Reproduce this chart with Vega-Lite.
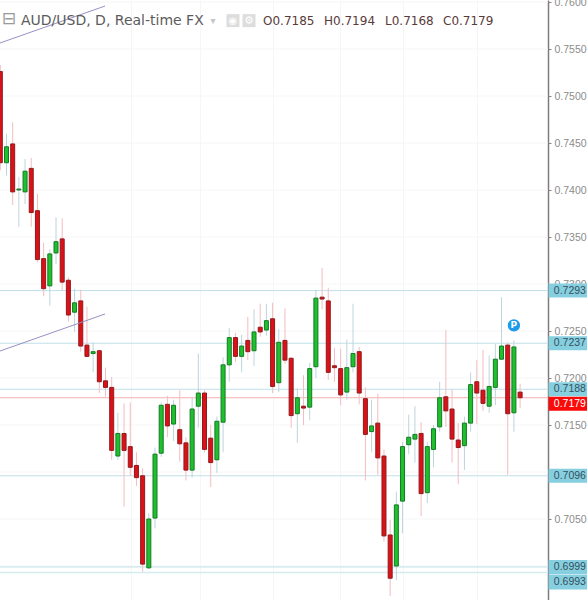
{
  "$schema": "https://vega.github.io/schema/vega-lite/v6.json",
  "width": 587,
  "height": 600,
  "padding": 0,
  "autosize": {"type": "none"},
  "background": "white",
  "view": {"stroke": null},
  "config": {"font": "Liberation Sans"},
  "data": {"values": [{}]},
  "datasets": {
    "candles": [
      {"day":0,"open":0.7526,"high":0.7533,"low":0.7421,"close":0.7429},
      {"day":1,"open":0.7429,"high":0.7460,"low":0.7415,"close":0.7446},
      {"day":2,"open":0.7449,"high":0.7472,"low":0.7384,"close":0.7398},
      {"day":3,"open":0.7400,"high":0.7414,"low":0.7361,"close":0.7401},
      {"day":4,"open":0.7398,"high":0.7433,"low":0.7385,"close":0.7420},
      {"day":5,"open":0.7423,"high":0.7434,"low":0.7361,"close":0.7376},
      {"day":6,"open":0.7378,"high":0.7396,"low":0.7323,"close":0.7326},
      {"day":7,"open":0.7327,"high":0.7344,"low":0.7287,"close":0.7295},
      {"day":8,"open":0.7298,"high":0.7337,"low":0.7277,"close":0.7332},
      {"day":9,"open":0.7333,"high":0.7371,"low":0.7321,"close":0.7345},
      {"day":10,"open":0.7348,"high":0.7370,"low":0.7293,"close":0.7302},
      {"day":11,"open":0.7304,"high":0.7307,"low":0.7260,"close":0.7267},
      {"day":12,"open":0.7270,"high":0.7295,"low":0.7249,"close":0.7280},
      {"day":13,"open":0.7282,"high":0.7294,"low":0.7228,"close":0.7234},
      {"day":14,"open":0.7235,"high":0.7276,"low":0.7222,"close":0.7223},
      {"day":15,"open":0.7226,"high":0.7238,"low":0.7206,"close":0.7228},
      {"day":16,"open":0.7229,"high":0.7230,"low":0.7184,"close":0.7196},
      {"day":17,"open":0.7197,"high":0.7211,"low":0.7180,"close":0.7190},
      {"day":18,"open":0.7190,"high":0.7201,"low":0.7113,"close":0.7123},
      {"day":19,"open":0.7117,"high":0.7163,"low":0.7113,"close":0.7141},
      {"day":20,"open":0.7141,"high":0.7173,"low":0.7063,"close":0.7123},
      {"day":21,"open":0.7127,"high":0.7174,"low":0.7096,"close":0.7105},
      {"day":22,"open":0.7107,"high":0.7121,"low":0.7085,"close":0.7094},
      {"day":23,"open":0.7096,"high":0.7104,"low":0.6994,"close":0.7002},
      {"day":24,"open":0.6998,"high":0.7056,"low":0.6997,"close":0.7050},
      {"day":25,"open":0.7051,"high":0.7126,"low":0.7040,"close":0.7119},
      {"day":26,"open":0.7120,"high":0.7174,"low":0.7116,"close":0.7171},
      {"day":27,"open":0.7172,"high":0.7181,"low":0.7137,"close":0.7149},
      {"day":28,"open":0.7151,"high":0.7177,"low":0.7133,"close":0.7171},
      {"day":29,"open":0.7145,"high":0.7187,"low":0.7111,"close":0.7130},
      {"day":30,"open":0.7131,"high":0.7137,"low":0.7091,"close":0.7102},
      {"day":31,"open":0.7102,"high":0.7179,"low":0.7094,"close":0.7167},
      {"day":32,"open":0.7170,"high":0.7226,"low":0.7147,"close":0.7184},
      {"day":33,"open":0.7184,"high":0.7187,"low":0.7121,"close":0.7124},
      {"day":34,"open":0.7136,"high":0.7150,"low":0.7084,"close":0.7110},
      {"day":35,"open":0.7113,"high":0.7159,"low":0.7099,"close":0.7154},
      {"day":36,"open":0.7153,"high":0.7222,"low":0.7121,"close":0.7214},
      {"day":37,"open":0.7214,"high":0.7253,"low":0.7196,"close":0.7243},
      {"day":38,"open":0.7243,"high":0.7248,"low":0.7217,"close":0.7223},
      {"day":39,"open":0.7223,"high":0.7246,"low":0.7206,"close":0.7234},
      {"day":40,"open":0.7240,"high":0.7265,"low":0.7219,"close":0.7228},
      {"day":41,"open":0.7229,"high":0.7273,"low":0.7213,"close":0.7249},
      {"day":42,"open":0.7254,"high":0.7279,"low":0.7244,"close":0.7249},
      {"day":43,"open":0.7251,"high":0.7279,"low":0.7245,"close":0.7261},
      {"day":44,"open":0.7263,"high":0.7280,"low":0.7184,"close":0.7191},
      {"day":45,"open":0.7195,"high":0.7252,"low":0.7185,"close":0.7238},
      {"day":46,"open":0.7240,"high":0.7274,"low":0.7215,"close":0.7219},
      {"day":47,"open":0.7221,"high":0.7222,"low":0.7147,"close":0.7160},
      {"day":48,"open":0.7162,"high":0.7189,"low":0.7131,"close":0.7179},
      {"day":49,"open":0.7170,"high":0.7203,"low":0.7150,"close":0.7168},
      {"day":50,"open":0.7169,"high":0.7216,"low":0.7155,"close":0.7210},
      {"day":51,"open":0.7212,"high":0.7294,"low":0.7200,"close":0.7285},
      {"day":52,"open":0.7286,"high":0.7317,"low":0.7273,"close":0.7284},
      {"day":53,"open":0.7282,"high":0.7296,"low":0.7198,"close":0.7206},
      {"day":54,"open":0.7213,"high":0.7232,"low":0.7196,"close":0.7211},
      {"day":55,"open":0.7210,"high":0.7231,"low":0.7171,"close":0.7182},
      {"day":56,"open":0.7185,"high":0.7241,"low":0.7177,"close":0.7211},
      {"day":57,"open":0.7212,"high":0.7279,"low":0.7206,"close":0.7226},
      {"day":58,"open":0.7228,"high":0.7233,"low":0.7172,"close":0.7184},
      {"day":59,"open":0.7178,"high":0.7190,"low":0.7091,"close":0.7140},
      {"day":60,"open":0.7143,"high":0.7177,"low":0.7121,"close":0.7149},
      {"day":61,"open":0.7152,"high":0.7183,"low":0.7097,"close":0.7115},
      {"day":62,"open":0.7117,"high":0.7124,"low":0.7026,"close":0.7032},
      {"day":63,"open":0.7033,"high":0.7049,"low":0.6968,"close":0.6987},
      {"day":64,"open":0.7000,"high":0.7079,"low":0.6985,"close":0.7065},
      {"day":65,"open":0.7069,"high":0.7132,"low":0.7035,"close":0.7127},
      {"day":66,"open":0.7129,"high":0.7161,"low":0.7119,"close":0.7137},
      {"day":67,"open":0.7135,"high":0.7170,"low":0.7110,"close":0.7140},
      {"day":68,"open":0.7141,"high":0.7153,"low":0.7053,"close":0.7077},
      {"day":69,"open":0.7078,"high":0.7132,"low":0.7067,"close":0.7127},
      {"day":70,"open":0.7124,"high":0.7150,"low":0.7105,"close":0.7146},
      {"day":71,"open":0.7148,"high":0.7196,"low":0.7143,"close":0.7179},
      {"day":72,"open":0.7180,"high":0.7251,"low":0.7148,"close":0.7165},
      {"day":73,"open":0.7167,"high":0.7188,"low":0.7110,"close":0.7135},
      {"day":74,"open":0.7134,"high":0.7152,"low":0.7087,"close":0.7126},
      {"day":75,"open":0.7128,"high":0.7159,"low":0.7102,"close":0.7152},
      {"day":76,"open":0.7152,"high":0.7206,"low":0.7143,"close":0.7193},
      {"day":77,"open":0.7196,"high":0.7219,"low":0.7151,"close":0.7184},
      {"day":78,"open":0.7187,"high":0.7230,"low":0.7165,"close":0.7173},
      {"day":79,"open":0.7170,"high":0.7224,"low":0.7163,"close":0.7191},
      {"day":80,"open":0.7190,"high":0.7236,"low":0.7171,"close":0.7220},
      {"day":81,"open":0.7220,"high":0.7286,"low":0.7219,"close":0.7234},
      {"day":82,"open":0.7235,"high":0.7238,"low":0.7097,"close":0.7162},
      {"day":83,"open":0.7163,"high":0.7240,"low":0.7143,"close":0.7233},
      {"day":84,"open":0.7185,"high":0.7194,"low":0.7168,"close":0.7179}
    ],
    "ticks": [
      {"price":0.70},{"price":0.705},{"price":0.71},{"price":0.715},{"price":0.72},{"price":0.725},{"price":0.73},
      {"price":0.735},{"price":0.74},{"price":0.745},{"price":0.75},{"price":0.755},{"price":0.76}
    ],
    "trend": [
      {"line":"a","day":-0.05,"price":0.75564},
      {"line":"a","day":16.92,"price":0.75957},
      {"line":"b","day":-0.05,"price":0.72287},
      {"line":"b","day":16.92,"price":0.72681}
    ],
    "levels": [
      {"price":0.7293,"label":"0.7293"},
      {"price":0.7237,"label":"0.7237"},
      {"price":0.7188,"label":"0.7188"},
      {"price":0.7096,"label":"0.7096"},
      {"price":0.6999,"label":"0.6999"}
    ],
    "lowest": [{"price":0.6993,"label":"0.6993"}],
    "last": [{"price":0.7179,"label":"0.7179"}],
    "ohlc": [
      {"day":42.45,"label":"O0.7185"},
      {"day":52.31,"label":"H0.7194"},
      {"day":62.17,"label":"L0.7168"},
      {"day":71.54,"label":"C0.7179"}
    ],
    "pin": [{"day":83,"price":0.7256,"label":"P"}]
  },
  "layer": [
    {
      "data": {"name": "ticks"},
      "mark": {"type": "rule", "color": "#f6f6f6", "strokeWidth": 1},
      "encoding": {
        "x": {"datum": -0.05, "type": "quantitative"},
        "x2": {"datum": 88.5},
        "y": {"field": "price", "type": "quantitative"}
      }
    },
    {
      "data": {"name": "levels"},
      "mark": {"type": "rule", "color": "#bfe0e8", "strokeWidth": 1},
      "encoding": {
        "x": {"datum": -0.05, "type": "quantitative"},
        "x2": {"datum": 88.5},
        "y": {"field": "price", "type": "quantitative"}
      }
    },
    {
      "data": {"name": "lowest"},
      "mark": {"type": "rule", "color": "#d5ebf0", "strokeWidth": 1.5},
      "encoding": {
        "x": {"datum": -0.05, "type": "quantitative"},
        "x2": {"datum": 88.5},
        "y": {"field": "price", "type": "quantitative"}
      }
    },
    {
      "data": {"name": "last"},
      "mark": {"type": "rule", "color": "#f5b0b0", "strokeWidth": 1},
      "encoding": {
        "x": {"datum": -0.05, "type": "quantitative"},
        "x2": {"datum": 88.5},
        "y": {"field": "price", "type": "quantitative"}
      }
    },
    {
      "data": {"name": "candles"},
      "mark": {"type": "rule", "strokeWidth": 1},
      "encoding": {
        "x": {
          "field": "day",
          "type": "quantitative",
          "scale": {"domain": [-0.05, 94.81], "nice": false, "zero": false, "padding": 0},
          "axis": {
            "values": [21.1, 32.3, 44.1, 54.9, 65.1, 77],
            "grid": true,
            "gridColor": "#f6f6f6",
            "labels": false,
            "ticks": false,
            "domain": false,
            "title": null
          }
        },
        "y": {
          "field": "low",
          "type": "quantitative",
          "scale": {"domain": [0.696383, 0.760213], "nice": false, "zero": false, "padding": 0},
          "axis": {
            "orient": "right",
            "offset": -39,
            "values": [0.705, 0.715, 0.72, 0.725, 0.73, 0.735, 0.74, 0.745, 0.75, 0.755, 0.76],
            "format": ".4f",
            "grid": false,
            "title": null,
            "domainColor": "#7d7d7d",
            "domainWidth": 1.5,
            "tickColor": "#8a8a8a",
            "tickSize": 3,
            "labelColor": "#8c8c8c",
            "labelFontSize": 10.5,
            "labelPadding": 3,
            "labelOverlap": false
          }
        },
        "y2": {"field": "high"},
        "color": {
          "condition": {"test": "datum.close >= datum.open", "value": "#bcd5dc"},
          "value": "#f4bcc0"
        }
      }
    },
    {
      "data": {"name": "candles"},
      "mark": {"type": "bar", "size": 4, "strokeWidth": 1},
      "encoding": {
        "x": {"field": "day", "type": "quantitative"},
        "y": {"field": "open", "type": "quantitative"},
        "y2": {"field": "close"},
        "fill": {
          "condition": {"test": "datum.close >= datum.open", "value": "#1fc02e"},
          "value": "#dc1118"
        },
        "stroke": {
          "condition": {"test": "datum.close >= datum.open", "value": "#137a24"},
          "value": "#8e1a1e"
        }
      }
    },
    {
      "data": {"name": "trend"},
      "mark": {"type": "line", "color": "#9a8fc4", "strokeWidth": 1},
      "encoding": {
        "x": {"field": "day", "type": "quantitative"},
        "y": {"field": "price", "type": "quantitative"},
        "detail": {"field": "line"}
      }
    },
    {
      "data": {"name": "pin"},
      "layer": [
        {
          "mark": {"type": "point", "shape": "circle", "filled": true, "size": 154, "color": "#1e9bea", "opacity": 1},
          "encoding": {
            "x": {"field": "day", "type": "quantitative"},
            "y": {"field": "price", "type": "quantitative"}
          }
        },
        {
          "mark": {"type": "text", "color": "white", "fontSize": 9, "fontWeight": "bold", "font": "DejaVu Sans"},
          "encoding": {
            "x": {"field": "day", "type": "quantitative"},
            "y": {"field": "price", "type": "quantitative"},
            "text": {"field": "label"}
          }
        }
      ]
    },
    {
      "data": {"name": "levels"},
      "layer": [
        {
          "mark": {"type": "bar", "size": 14, "color": "#86cfe0"},
          "encoding": {
            "x": {"datum": 88.6, "type": "quantitative"},
            "x2": {"datum": 94.81},
            "y": {"field": "price", "type": "quantitative"}
          }
        },
        {
          "mark": {"type": "text", "align": "left", "baseline": "middle", "fontSize": 10.5, "color": "#35505c"},
          "encoding": {
            "x": {"datum": 89.45, "type": "quantitative"},
            "y": {"field": "price", "type": "quantitative"},
            "text": {"field": "label"}
          }
        }
      ]
    },
    {
      "data": {"name": "lowest"},
      "layer": [
        {
          "mark": {"type": "bar", "size": 15, "color": "#86cfe0", "yOffset": 9.5},
          "encoding": {
            "x": {"datum": 88.6, "type": "quantitative"},
            "x2": {"datum": 94.81},
            "y": {"field": "price", "type": "quantitative"}
          }
        },
        {
          "mark": {"type": "text", "align": "left", "baseline": "middle", "fontSize": 10.5, "color": "#35505c", "yOffset": 9.5},
          "encoding": {
            "x": {"datum": 89.45, "type": "quantitative"},
            "y": {"field": "price", "type": "quantitative"},
            "text": {"field": "label"}
          }
        }
      ]
    },
    {
      "data": {"name": "last"},
      "layer": [
        {
          "mark": {"type": "bar", "size": 14, "color": "#fb0a0a", "yOffset": 6},
          "encoding": {
            "x": {"datum": 88.6, "type": "quantitative"},
            "x2": {"datum": 94.81},
            "y": {"field": "price", "type": "quantitative"}
          }
        },
        {
          "mark": {"type": "text", "align": "left", "baseline": "middle", "fontSize": 10.5, "color": "white", "yOffset": 6},
          "encoding": {
            "x": {"datum": 89.45, "type": "quantitative"},
            "y": {"field": "price", "type": "quantitative"},
            "text": {"field": "label"}
          }
        }
      ]
    },
    {
      "mark": {"type": "text", "text": "⊟", "font": "DejaVu Sans", "fontSize": 17, "color": "#9a9a9a"},
      "encoding": {
        "x": {"datum": 1.4, "type": "quantitative"},
        "y": {"datum": 0.75819, "type": "quantitative"}
      }
    },
    {
      "mark": {"type": "text", "text": "AUD/USD, D, Real-time FX", "font": "DejaVu Sans", "fontSize": 14, "align": "left", "baseline": "middle", "color": "#5c5c5c"},
      "encoding": {
        "x": {"datum": 3.34, "type": "quantitative"},
        "y": {"datum": 0.75802, "type": "quantitative"}
      }
    },
    {
      "mark": {"type": "text", "text": "▾", "font": "DejaVu Sans", "fontSize": 10, "color": "#c4c4c4"},
      "encoding": {
        "x": {"datum": 34.37, "type": "quantitative"},
        "y": {"datum": 0.75802, "type": "quantitative"}
      }
    },
    {
      "mark": {"type": "point", "shape": "square", "filled": true, "size": 169, "color": "#dddddd", "opacity": 1},
      "encoding": {
        "x": {"datum": 37.6, "type": "quantitative"},
        "y": {"datum": 0.75802, "type": "quantitative"}
      }
    },
    {
      "mark": {"type": "point", "shape": "square", "filled": true, "size": 169, "color": "#dddddd", "opacity": 1},
      "encoding": {
        "x": {"datum": 40.19, "type": "quantitative"},
        "y": {"datum": 0.75802, "type": "quantitative"}
      }
    },
    {
      "mark": {"type": "text", "text": "◉", "font": "DejaVu Sans", "fontSize": 10, "color": "white"},
      "encoding": {
        "x": {"datum": 37.6, "type": "quantitative"},
        "y": {"datum": 0.75802, "type": "quantitative"}
      }
    },
    {
      "mark": {"type": "text", "text": "⚙", "font": "DejaVu Sans", "fontSize": 11, "color": "white"},
      "encoding": {
        "x": {"datum": 40.19, "type": "quantitative"},
        "y": {"datum": 0.75802, "type": "quantitative"}
      }
    },
    {
      "data": {"name": "ohlc"},
      "mark": {"type": "text", "font": "DejaVu Sans", "fontSize": 12, "align": "left", "baseline": "middle", "color": "#5a3b3b"},
      "encoding": {
        "x": {"field": "day", "type": "quantitative"},
        "y": {"datum": 0.75802, "type": "quantitative"},
        "text": {"field": "label"}
      }
    }
  ]
}
